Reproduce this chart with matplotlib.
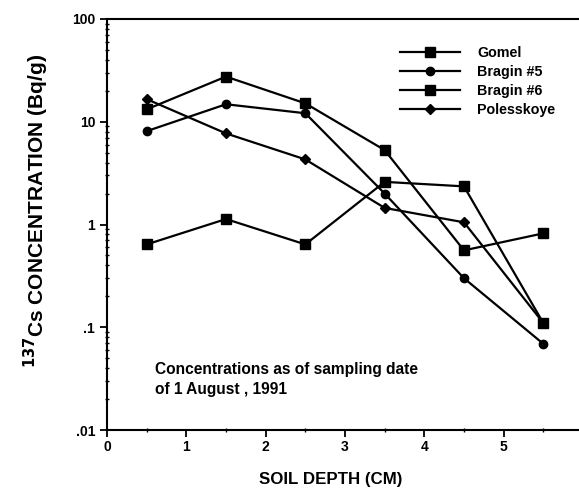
import numpy as np
import matplotlib
matplotlib.use("Agg")
import matplotlib.pyplot as plt
from matplotlib.ticker import FixedLocator, FixedFormatter, LogLocator, NullFormatter

plt.rcParams['font.family'] = ['Liberation Sans', 'DejaVu Sans']
plt.rcParams['font.weight'] = 'bold'

# soil depth (cm) of each sample
depth = [0.5, 1.5, 2.5, 3.5, 4.5, 5.5]

# 137Cs concentration (Bq/g)
gomel = [13.2, 27.5, 15.1, 5.3, 0.56, 0.82]
bragin5 = [8.1, 14.8, 12.1, 2.0, 0.30, 0.069]
bragin6 = [0.64, 1.13, 0.64, 2.6, 2.35, 0.11]
polesskoye = [16.6, 7.7, 4.3, 1.45, 1.05, 0.11]

names = ["Gomel", "Bragin #5", "Bragin #6", "Polesskoye"]
markers = ["s", "o", "s", "D"]
msizes = [7, 6, 6.5, 5.5]

ytick_vals = [0.01, 0.1, 1, 10, 100]
ytick_text = [".01", ".1", "1", "10", "100"]

fig = plt.figure(figsize=(5.79, 4.97), dpi=100)
ax = fig.add_axes([107/579, 1 - 430/497, 1 - 107/579, (430 - 19)/497])

for vals, name, mk, ms in zip([gomel, bragin5, bragin6, polesskoye], names, markers, msizes):
    ax.plot(depth, vals, color='black', lw=1.6, marker=mk, ms=ms, label=name)

ax.set_yscale('log')
ax.set_ylim(0.01, 100)
ax.set_xlim(0, 5.95)

ax.yaxis.set_major_locator(FixedLocator(ytick_vals))
ax.yaxis.set_major_formatter(FixedFormatter(ytick_text))
ax.yaxis.set_minor_locator(LogLocator(base=10, subs=np.arange(2, 10)))
ax.yaxis.set_minor_formatter(NullFormatter())

ax.set_xticks([0, 1, 2, 3, 4, 5])
ax.set_xticks(np.arange(0.5, 6, 1.0), minor=True)

ax.tick_params(axis='both', which='major', direction='out', length=5, width=1.3, labelsize=10)
ax.tick_params(axis='both', which='minor', direction='inout', length=3, width=1)
ax.tick_params(axis='x', which='major', pad=2.5)

ax.spines['right'].set_visible(False)
for s in ['left', 'bottom', 'top']:
    ax.spines[s].set_linewidth(1.5)

ax.set_xlabel("SOIL DEPTH (CM)", fontsize=12.2, fontweight='bold')
ax.xaxis.set_label_coords((331 - 107) / 472, -0.102)
ax.set_ylabel(r"$^{\mathbf{137}}$Cs CONCENTRATION (Bq/g)", fontsize=15, fontweight='bold')
ax.yaxis.set_label_coords(-0.118, (430 - 211) / 411)

ax.text(0.6, 0.031, "Concentrations as of sampling date\nof 1 August , 1991",
        fontsize=11.2, fontweight='bold', va='center', linespacing=1.4)

leg = ax.legend(loc='upper left', bbox_to_anchor=(0.593, 0.965), frameon=False,
                handlelength=4.2, handletextpad=1.2, labelspacing=0.35, fontsize=10.3)

fig.savefig("out.png", dpi=100)
